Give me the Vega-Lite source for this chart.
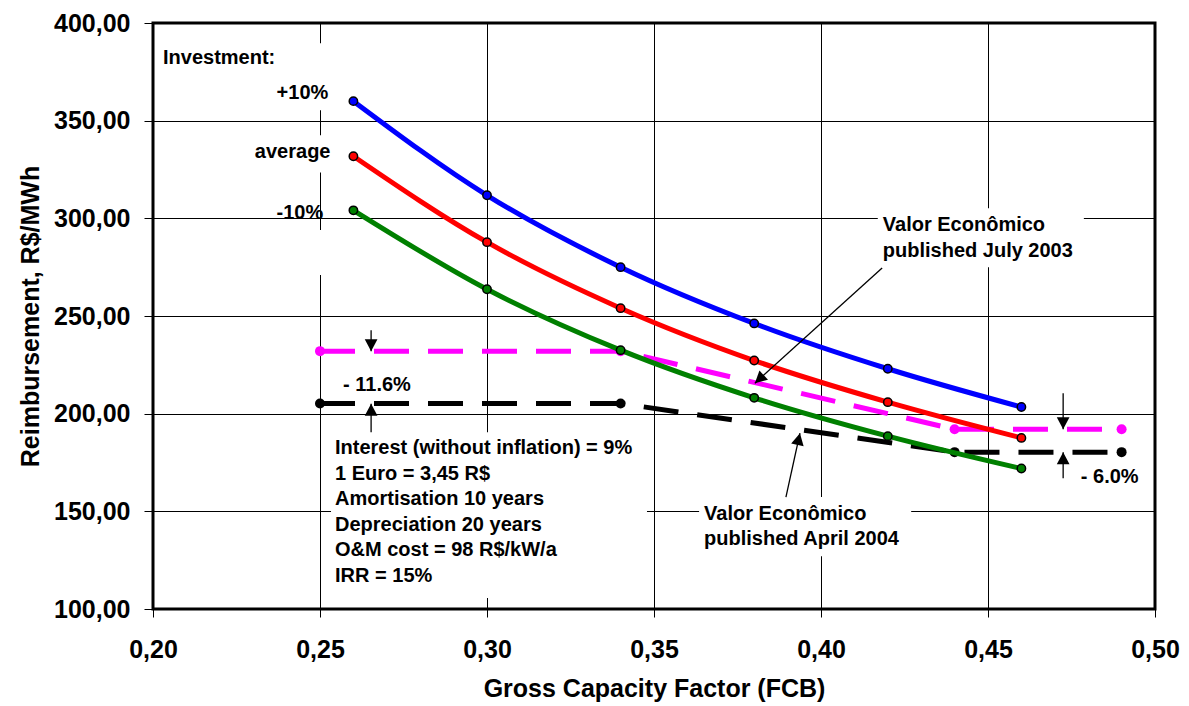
{
  "$schema": "https://vega.github.io/schema/vega-lite/v6.json",
  "width": 1002,
  "height": 586,
  "autosize": {"type": "none"},
  "padding": {"left": 153, "top": 23, "right": 34, "bottom": 97},
  "background": "white",
  "config": {
    "view": {"stroke": "black", "strokeWidth": 3},
    "font": "Liberation Sans",
    "axis": {
      "labelFont": "Liberation Sans", "labelFontWeight": "bold", "labelFontSize": 25, "labelColor": "black",
      "titleFont": "Liberation Sans", "titleFontWeight": "bold", "titleFontSize": 25, "titleColor": "black",
      "gridColor": "#000000", "gridWidth": 1, "gridOpacity": 1,
      "tickColor": "black", "tickWidth": 1, "domain": false
    }
  },
  "datasets": {
    "curves": [
      {"fcb": 0.26, "value": 360.0, "series": "+10%"},
      {"fcb": 0.30, "value": 311.8, "series": "+10%"},
      {"fcb": 0.34, "value": 275.0, "series": "+10%"},
      {"fcb": 0.38, "value": 246.2, "series": "+10%"},
      {"fcb": 0.42, "value": 223.0, "series": "+10%"},
      {"fcb": 0.46, "value": 203.4, "series": "+10%"},
      {"fcb": 0.26, "value": 331.8, "series": "average"},
      {"fcb": 0.30, "value": 287.8, "series": "average"},
      {"fcb": 0.34, "value": 254.0, "series": "average"},
      {"fcb": 0.38, "value": 227.2, "series": "average"},
      {"fcb": 0.42, "value": 205.9, "series": "average"},
      {"fcb": 0.46, "value": 187.6, "series": "average"},
      {"fcb": 0.26, "value": 304.1, "series": "-10%"},
      {"fcb": 0.30, "value": 263.7, "series": "-10%"},
      {"fcb": 0.34, "value": 232.5, "series": "-10%"},
      {"fcb": 0.38, "value": 208.1, "series": "-10%"},
      {"fcb": 0.42, "value": 188.5, "series": "-10%"},
      {"fcb": 0.46, "value": 171.9, "series": "-10%"}
    ],
    "dashed": [
      {"fcb": 0.25, "value": 232.0, "series": "July 2003"},
      {"fcb": 0.34, "value": 232.0, "series": "July 2003"},
      {"fcb": 0.44, "value": 192.0, "series": "July 2003"},
      {"fcb": 0.49, "value": 192.0, "series": "July 2003"},
      {"fcb": 0.25, "value": 205.2, "series": "April 2004"},
      {"fcb": 0.34, "value": 205.2, "series": "April 2004"},
      {"fcb": 0.44, "value": 180.3, "series": "April 2004"},
      {"fcb": 0.49, "value": 180.3, "series": "April 2004"}
    ],
    "boxes": [
      {"x": 0.2533, "x2": 0.3479, "y": 105.6, "y2": 190.5},
      {"x": 0.4170, "x2": 0.4787, "y": 275.0, "y2": 305.2},
      {"x": 0.3635, "x2": 0.4270, "y": 127.0, "y2": 157.3},
      {"x": 0.2350, "x2": 0.2548, "y": 355.3, "y2": 389.6},
      {"x": 0.2290, "x2": 0.2548, "y": 323.5, "y2": 342.5},
      {"x": 0.2341, "x2": 0.2554, "y": 271.0, "y2": 294.0}
    ],
    "labels": [
      {"x": 0.2030, "y": 381.9, "text": "Investment:"},
      {"x": 0.2370, "y": 364.0, "text": "+10%"},
      {"x": 0.2305, "y": 333.8, "text": "average"},
      {"x": 0.2370, "y": 302.6, "text": "-10%"},
      {"x": 0.2569, "y": 214.6, "text": "- 11.6%"},
      {"x": 0.4778, "y": 167.6, "text": "- 6.0%"}
    ],
    "notes": [
      {"x": 0.2545, "y": 179.3, "text": "Interest (without inflation) = 9%|1 Euro = 3,45 R$|Amortisation 10 years|Depreciation 20 years|O&M cost = 98 R$/kW/a|IRR = 15%"},
      {"x": 0.4185, "y": 293.5, "text": "Valor Econômico|published July 2003"},
      {"x": 0.3650, "y": 145.8, "text": "Valor Econômico|published April 2004"}
    ],
    "arrows": [
      {"x": 0.4183, "y": 274.6, "x2": 0.3802, "y2": 215.6, "dir": "july"},
      {"x": 0.3895, "y": 157.3, "x2": 0.3937, "y2": 190.0, "dir": "april"},
      {"x": 0.2653, "y": 242.7, "x2": 0.2653, "y2": 232.0, "dir": "down"},
      {"x": 0.2653, "y": 190.5, "x2": 0.2653, "y2": 205.1, "dir": "up"},
      {"x": 0.4725, "y": 210.5, "x2": 0.4725, "y2": 192.0, "dir": "down"},
      {"x": 0.4725, "y": 166.9, "x2": 0.4725, "y2": 180.2, "dir": "up"}
    ]
  },
  "encoding": {
    "x": {"field": "fcb", "type": "quantitative"},
    "y": {"field": "value", "type": "quantitative"}
  },
  "layer": [
    {
      "data": {"name": "boxes"},
      "mark": {"type": "rect", "fill": "white", "stroke": null},
      "encoding": {
        "x": {"field": "x", "type": "quantitative",
          "scale": {"domain": [0.2, 0.5], "nice": false, "zero": false},
          "axis": {"values": [0.2, 0.25, 0.3, 0.35, 0.4, 0.45, 0.5], "labelExpr": "replace(format(datum.value, '.2f'), '.', ',')", "title": "Gross Capacity Factor (FCB)", "tickSize": 8, "labelPadding": 20, "titlePadding": 14, "labelFlush": false}},
        "x2": {"field": "x2"},
        "y": {"field": "y", "type": "quantitative",
          "scale": {"domain": [100, 400], "nice": false, "zero": false},
          "axis": {"values": [100, 150, 200, 250, 300, 350, 400], "labelExpr": "replace(format(datum.value, '.2f'), '.', ',')", "title": "Reimbursement, R$/MWh", "tickSize": 9, "labelPadding": 14, "titlePadding": 10, "labelFlush": false}},
        "y2": {"field": "y2"}
      }
    },
    {
      "data": {"name": "dashed"},
      "mark": {"type": "line", "strokeWidth": 5, "strokeDash": [35, 19]},
      "encoding": {
        "color": {"field": "series", "type": "nominal", "scale": {"domain": ["July 2003", "April 2004"], "range": ["#FF00FF", "#000000"]}, "legend": null}
      }
    },
    {
      "data": {"name": "dashed"},
      "mark": {"type": "point", "filled": true, "opacity": 1, "size": 100},
      "encoding": {
        "color": {"field": "series", "type": "nominal", "scale": {"domain": ["July 2003", "April 2004"], "range": ["#FF00FF", "#000000"]}, "legend": null}
      }
    },
    {
      "data": {"name": "curves"},
      "mark": {"type": "line", "strokeWidth": 5, "interpolate": "monotone"},
      "encoding": {
        "stroke": {"field": "series", "type": "nominal", "scale": {"domain": ["+10%", "average", "-10%"], "range": ["#0000FF", "#FF0000", "#008000"]}, "legend": null}
      }
    },
    {
      "data": {"name": "curves"},
      "mark": {"type": "point", "filled": true, "opacity": 1, "size": 70, "stroke": "black", "strokeWidth": 1.5},
      "encoding": {
        "fill": {"field": "series", "type": "nominal", "scale": {"domain": ["+10%", "average", "-10%"], "range": ["#0000FF", "#FF0000", "#008000"]}, "legend": null}
      }
    },
    {
      "data": {"name": "labels"},
      "mark": {"type": "text", "align": "left", "baseline": "middle", "font": "Liberation Sans", "fontWeight": "bold", "fontSize": 20, "color": "black"},
      "encoding": {
        "x": {"field": "x", "type": "quantitative"},
        "y": {"field": "y", "type": "quantitative"},
        "text": {"field": "text"}
      }
    },
    {
      "data": {"name": "notes"},
      "mark": {"type": "text", "align": "left", "baseline": "alphabetic", "font": "Liberation Sans", "fontWeight": "bold", "fontSize": 20, "lineHeight": 25.5, "lineBreak": "|", "color": "black"},
      "encoding": {
        "x": {"field": "x", "type": "quantitative"},
        "y": {"field": "y", "type": "quantitative"},
        "text": {"field": "text"}
      }
    },
    {
      "data": {"name": "arrows"},
      "mark": {"type": "rule", "color": "black", "strokeWidth": 1.3},
      "encoding": {
        "x": {"field": "x", "type": "quantitative"},
        "y": {"field": "y", "type": "quantitative"},
        "x2": {"field": "x2"},
        "y2": {"field": "y2"}
      }
    },
    {
      "data": {"name": "arrows"},
      "transform": [{"filter": "datum.dir === 'up'"}],
      "mark": {"type": "point", "shape": "M0,0 L-0.53,1 L0.53,1 Z", "filled": true, "color": "black", "opacity": 1, "size": 576, "angle": 0},
      "encoding": {"x": {"field": "x2", "type": "quantitative"}, "y": {"field": "y2", "type": "quantitative"}}
    },
    {
      "data": {"name": "arrows"},
      "transform": [{"filter": "datum.dir === 'down'"}],
      "mark": {"type": "point", "shape": "M0,0 L-0.53,1 L0.53,1 Z", "filled": true, "color": "black", "opacity": 1, "size": 576, "angle": 180},
      "encoding": {"x": {"field": "x2", "type": "quantitative"}, "y": {"field": "y2", "type": "quantitative"}}
    },
    {
      "data": {"name": "arrows"},
      "transform": [{"filter": "datum.dir === 'july'"}],
      "mark": {"type": "point", "shape": "M0,0 L-0.53,1 L0.53,1 Z", "filled": true, "color": "black", "opacity": 1, "size": 576, "angle": 227.6},
      "encoding": {"x": {"field": "x2", "type": "quantitative"}, "y": {"field": "y2", "type": "quantitative"}}
    },
    {
      "data": {"name": "arrows"},
      "transform": [{"filter": "datum.dir === 'april'"}],
      "mark": {"type": "point", "shape": "M0,0 L-0.53,1 L0.53,1 Z", "filled": true, "color": "black", "opacity": 1, "size": 576, "angle": 12.3},
      "encoding": {"x": {"field": "x2", "type": "quantitative"}, "y": {"field": "y2", "type": "quantitative"}}
    }
  ]
}
